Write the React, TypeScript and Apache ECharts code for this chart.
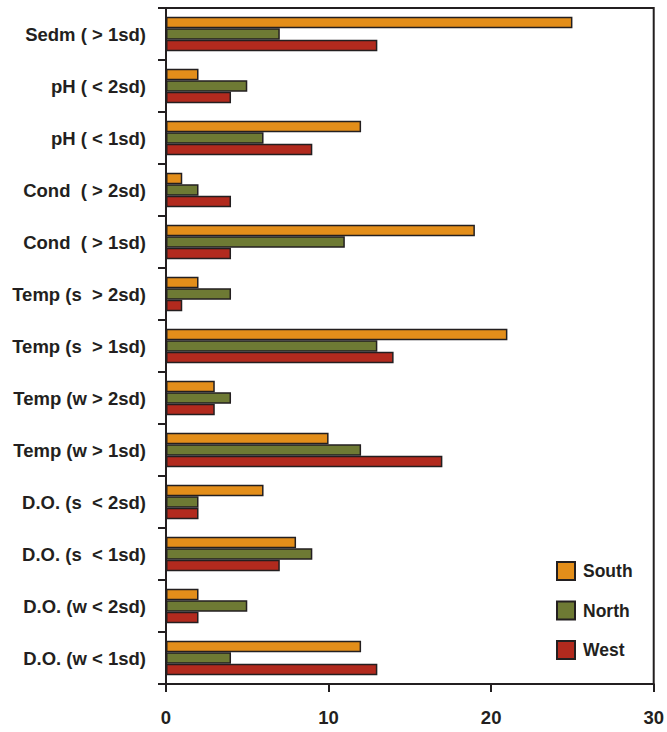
import React, { useEffect, useRef } from "react";
import * as echarts from "echarts";

const categories = [
  "Sedm ( > 1sd)",
  "pH ( < 2sd)",
  "pH ( < 1sd)",
  "Cond  ( > 2sd)",
  "Cond  ( > 1sd)",
  "Temp (s  > 2sd)",
  "Temp (s  > 1sd)",
  "Temp (w > 2sd)",
  "Temp (w > 1sd)",
  "D.O. (s  < 2sd)",
  "D.O. (s  < 1sd)",
  "D.O. (w < 2sd)",
  "D.O. (w < 1sd)",
];
const south = [25, 2, 12, 1, 19, 2, 21, 3, 10, 6, 8, 2, 12];
const north = [7, 5, 6, 2, 11, 4, 13, 4, 12, 2, 9, 5, 4];
const west = [13, 4, 9, 4, 4, 1, 14, 3, 17, 2, 7, 2, 13];
const xTicks = { min: 0, max: 30, interval: 10 };

const INK = "#231F20";
const FONT = "'Liberation Sans', Arial, Helvetica, sans-serif";

export default function App() {
  const ref = useRef<HTMLDivElement>(null);
  useEffect(() => {
    if (!ref.current) return;
    const chart = echarts.init(ref.current, undefined, { renderer: "svg" });
    const mk = (name: string, data: number[], color: string) => ({
      name,
      type: "bar",
      data,
      barWidth: 11.5,
      barGap: "0%",
      itemStyle: { color, borderColor: INK, borderWidth: 1.5 },
    });
    chart.setOption({
      animation: false,
      backgroundColor: "#ffffff",
      grid: {
        left: 166,
        right: 9,
        top: 8,
        bottom: 48,
        show: true,
        borderColor: INK,
        borderWidth: 2,
      },
      legend: {
        orient: "vertical",
        left: 551,
        top: 556,
        itemWidth: 18,
        itemHeight: 18,
        itemGap: 19.5,
        icon: "rect",
        textStyle: {
          fontFamily: FONT,
          fontWeight: "bold",
          fontSize: 17.5,
          color: INK,
          padding: [0, 0, 0, 3],
        },
        data: ["South", "North", "West"],
      },
      xAxis: {
        type: "value",
        min: xTicks.min,
        max: xTicks.max,
        interval: xTicks.interval,
        splitLine: { show: false },
        axisLine: { show: true, lineStyle: { color: INK, width: 2 } },
        axisTick: { show: true, length: 8, lineStyle: { color: INK, width: 2 } },
        axisLabel: { margin: 24, fontFamily: FONT, fontWeight: "bold", fontSize: 18.5, color: INK },
      },
      yAxis: {
        type: "category",
        data: categories,
        inverse: true,
        axisLine: { show: true, lineStyle: { color: INK, width: 2 } },
        axisTick: { show: true, length: 8, lineStyle: { color: INK, width: 2 } },
        axisLabel: { margin: 20, fontFamily: FONT, fontWeight: "bold", fontSize: 18.5, color: INK },
      },
      series: [
        mk("South", south, "#E38E1A"),
        mk("North", north, "#6E7A34"),
        mk("West", west, "#B22A1E"),
      ],
    });
    return () => chart.dispose();
  }, []);
  return (
    <div
      ref={ref}
      style={{ position: "absolute", left: 0, top: 0, width: 667, height: 732 }}
    />
  );
}
